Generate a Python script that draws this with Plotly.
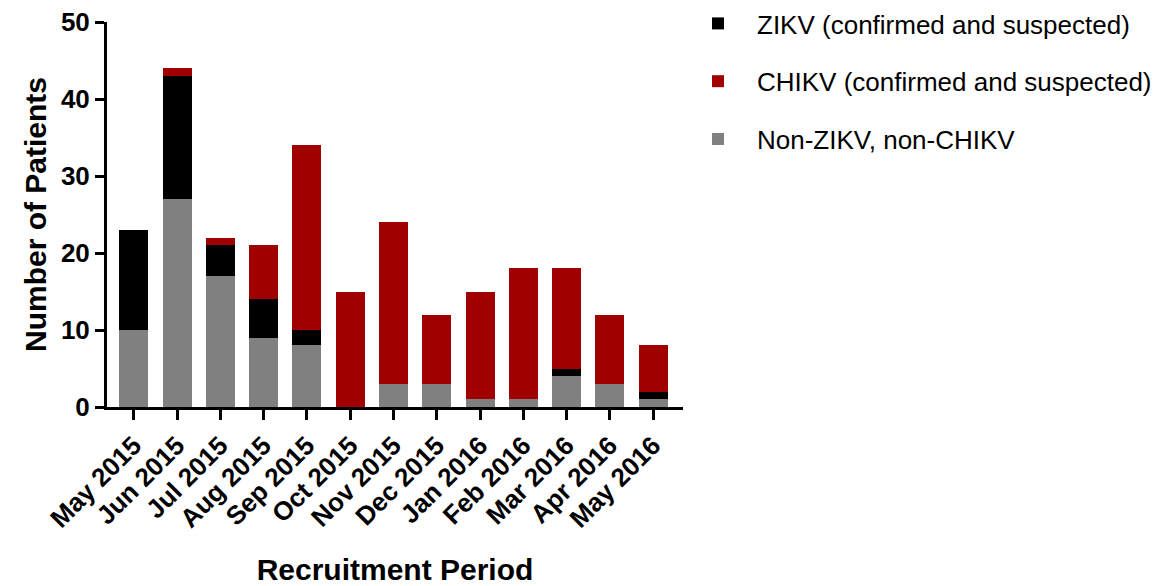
import plotly.graph_objects as go

months = ["May 2015", "Jun 2015", "Jul 2015", "Aug 2015", "Sep 2015", "Oct 2015",
          "Nov 2015", "Dec 2015", "Jan 2016", "Feb 2016", "Mar 2016", "Apr 2016", "May 2016"]
non_zikv_chikv = [10, 27, 17, 9, 8, 0, 3, 3, 1, 1, 4, 3, 1]
zikv = [13, 16, 4, 5, 2, 0, 0, 0, 0, 0, 1, 0, 1]
chikv = [0, 1, 1, 7, 24, 15, 21, 9, 14, 17, 13, 9, 6]

FONT = "Liberation Sans, Arial, sans-serif"
W, H = 1160, 578

fig = go.Figure()
fig.add_trace(go.Bar(x=months, y=non_zikv_chikv, name="Non-ZIKV, non-CHIKV",
                     marker=dict(color="#808080", line=dict(width=0)),
                     legendrank=3, legendgroup="c"))
fig.add_trace(go.Bar(x=months, y=zikv, name="ZIKV (confirmed and suspected)",
                     marker=dict(color="#000000", line=dict(width=0)),
                     legendrank=1, legendgroup="a"))
fig.add_trace(go.Bar(x=months, y=chikv, name="CHIKV (confirmed and suspected)",
                     marker=dict(color="#A00000", line=dict(width=0)),
                     legendrank=2, legendgroup="b"))

fig.update_layout(
    barmode="stack",
    bargap=0.33,
    width=W, height=H,
    margin=dict(l=99, r=485, t=14, b=179, autoexpand=False),
    paper_bgcolor="white", plot_bgcolor="white",
    font=dict(family=FONT, color="black"),
    legend=dict(x=1 + (671 - 675) / 576, xanchor="left",
                y=1 + 22 / 385, yanchor="top",
                traceorder="grouped", tracegroupgap=21, itemwidth=68,
                font=dict(family=FONT, size=26, color="black"),
                bgcolor="rgba(0,0,0,0)"),
    xaxis=dict(
        range=[-0.62, 12.69],
        automargin=False,
        ticklabeloverflow="allow",
        showline=True, linecolor="black", linewidth=3,
        ticks="outside", ticklen=10, tickwidth=3, tickcolor="black",
        tickangle=-45,
        tickfont=dict(family=FONT, size=26, color="black", weight="bold"),
        title=dict(text="Recruitment Period", standoff=33,
                   font=dict(family=FONT, size=30, color="black", weight="bold")),
        showgrid=False, zeroline=False,
    ),
    yaxis=dict(
        range=[0, 50],
        automargin=False,
        ticklabeloverflow="allow",
        tickvals=[0, 10, 20, 30, 40, 50],
        showline=True, linecolor="black", linewidth=3,
        ticks="outside", ticklen=9, tickwidth=3, tickcolor="black",
        tickfont=dict(family=FONT, size=26, color="black", weight="bold"),
        title=dict(text="Number of Patients", standoff=6,
                   font=dict(family=FONT, size=30, color="black", weight="bold")),
        showgrid=False, zeroline=False,
    ),
)

fig.write_html("out.html")
